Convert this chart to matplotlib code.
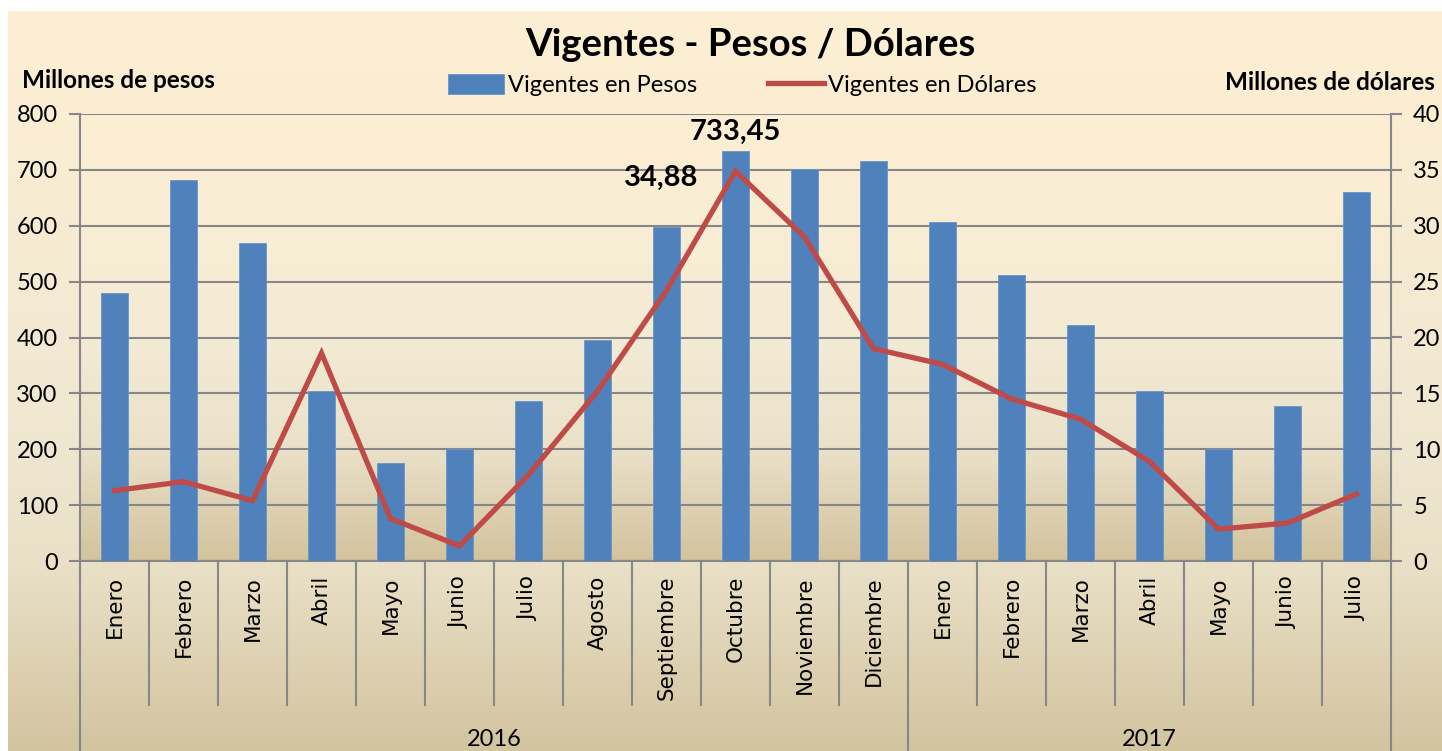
import numpy as np
import matplotlib
matplotlib.use("Agg")
import matplotlib.pyplot as plt
from matplotlib.colors import LinearSegmentedColormap

# ---------------- data ----------------
months = ["Enero", "Febrero", "Marzo", "Abril", "Mayo", "Junio", "Julio", "Agosto",
          "Septiembre", "Octubre", "Noviembre", "Diciembre",
          "Enero", "Febrero", "Marzo", "Abril", "Mayo", "Junio", "Julio"]
years = ["2016", "2017"]
year_counts = [12, 7]
pesos = [480, 682, 570, 305, 175, 201, 287, 396, 598, 733.45, 702, 716,
         606, 511, 422, 304, 201, 278, 660]
dolares = [6.3, 7.1, 5.4, 18.6, 3.8, 1.35, 7.7, 15.2, 24.2, 34.88, 29.0, 19.0,
           17.6, 14.5, 12.7, 8.9, 2.85, 3.4, 6.0]
left_ticks = [0, 100, 200, 300, 400, 500, 600, 700, 800]
right_ticks = [0, 5, 10, 15, 20, 25, 30, 35, 40]

W, H = 1442, 751
fig = plt.figure(figsize=(W / 100, H / 100), dpi=100)
fig.patch.set_facecolor("white")

FONT = ["Lato", "DejaVu Sans"]
grid_c = "#878787"

# chart area background gradient
bg = fig.add_axes([8 / W, 0, 1 - 8 / W, 1 - 11 / H], zorder=-10)
cm_bg = LinearSegmentedColormap.from_list(
    "bg", [(0, "#FDEFD2"), (0.55, "#F1E8D3"), (0.75, "#E9E0C7"), (1, "#D3C4A0")])
bg.imshow(np.linspace(0, 1, 256).reshape(-1, 1), aspect="auto", cmap=cm_bg,
          extent=[0, 1, 1, 0])
bg.axis("off")

# plot axes
L, R = 80 / W, 1391 / W
B, T = 1 - 561 / H, 1 - 114 / H
ax = fig.add_axes([L, B, R - L, T - B])
ax.set_facecolor("none")
ax.set_zorder(1)
ax2 = ax.twinx()
ax2.set_zorder(2)

n = len(months)
x = np.arange(n)

# plot area gradient
cm_pa = LinearSegmentedColormap.from_list(
    "pa", [(0, "#FDEFD2"), (0.5, "#F4EBD6"), (0.75, "#EAE1C9"), (1, "#D3C39D")])
ax.imshow(np.linspace(0, 1, 256).reshape(-1, 1), aspect="auto", cmap=cm_pa,
          extent=[-0.5, n - 0.5, 0, 800], zorder=0)
ax.set_xlim(-0.5, n - 0.5)
ax.set_ylim(0, 800)
ax2.set_ylim(0, 40)

# gridlines
ax.set_yticks(left_ticks)
ax.yaxis.grid(True, color=grid_c, linewidth=1.5, zorder=1)
ax.set_axisbelow(True)

ax.bar(x, pesos, width=0.4, color="#4F81BD", edgecolor="#6A95C8", linewidth=0.6,
       zorder=3, label="Vigentes en Pesos")
ax2.plot(x, dolares, color="#BE4B48", linewidth=3.8, solid_joinstyle="miter",
         zorder=4, label="Vigentes en Dólares")

for a in (ax, ax2):
    for s in a.spines.values():
        s.set_visible(False)
for a, side in ((ax, "left"), (ax2, "right"), (ax, "bottom")):
    a.spines[side].set_visible(True)
    a.spines[side].set_color(grid_c)
    a.spines[side].set_linewidth(1.5)

ax.tick_params(axis="y", direction="out", length=8, width=1.5, color=grid_c,
               labelsize=17, pad=8)
ax2.set_yticks(right_ticks)
ax2.tick_params(axis="y", direction="out", length=8, width=1.5, color=grid_c,
                labelsize=17, pad=8)
for lab in ax.get_yticklabels() + ax2.get_yticklabels():
    lab.set_family(FONT)

ax.set_xticks([])
ax.tick_params(axis="x", length=0)

# category axis: month separators, labels, year groups
trans = ax.get_xaxis_transform()
def ypx(p):
    # pixel row (from top) to axes-y coordinate
    return (1 - p / H - B) / (T - B)

y_axis = ypx(561)
y_month_end = ypx(705)
y_year_end = ypx(760)
boundaries = []
acc = 0
for c in year_counts:
    boundaries.append(acc)
    acc += c
boundaries.append(acc)
for i in range(n + 1):
    yend = y_year_end if i in boundaries else y_month_end
    ax.plot([i - 0.5, i - 0.5], [y_axis, yend], transform=trans, color=grid_c,
            linewidth=1.5, clip_on=False, zorder=5)
for i, m in enumerate(months):
    ax.text(i, ypx(576), m, transform=trans, rotation=90, ha="center", va="top",
            fontsize=15.5, family="DejaVu Sans", color="black", clip_on=False)
for k, yr in enumerate(years):
    c = (boundaries[k] + boundaries[k + 1] - 1) / 2
    ax.text(c, ypx(740), yr, transform=trans, ha="center", va="center",
            fontsize=17, family=FONT, clip_on=False)

# data labels
imax = int(np.argmax(pesos))
ax.annotate(f"{pesos[imax]:.2f}".replace(".", ","), (x[imax], pesos[imax]),
            xytext=(0, 14), textcoords="offset points", ha="center", va="center",
            fontsize=21, fontweight="bold", family=FONT, zorder=6)
jmax = int(np.argmax(dolares))
ax2.annotate(f"{dolares[jmax]:.2f}".replace(".", ","), (x[jmax], dolares[jmax]),
             xytext=(-27, -5), textcoords="offset points", ha="right", va="center",
             fontsize=21, fontweight="bold", family=FONT, zorder=6)

# title, axis titles, legend
fig.text(750 / W, 1 - 45 / H, "Vigentes - Pesos / Dólares", ha="center", va="center",
         fontsize=27.5, fontweight="bold", family=FONT)
fig.text(22 / W, 1 - 81 / H, "Millones de pesos", ha="left", va="center",
         fontsize=17.5, fontweight="bold", family=FONT)
fig.text(1435 / W, 1 - 82 / H, "Millones de dólares", ha="right", va="center",
         fontsize=17.5, fontweight="bold", family=FONT)

h1, l1 = ax.get_legend_handles_labels()
h2, l2 = ax2.get_legend_handles_labels()
leg = fig.legend(h1 + h2, l1 + l2, loc="center", bbox_to_anchor=(742 / W, 1 - 85 / H),
                 ncol=2, frameon=False, prop={"family": FONT, "size": 17},
                 handlelength=2.4, handletextpad=0.15, columnspacing=3.0,
                 handleheight=0.9)

fig.savefig("out.png", dpi=100)
